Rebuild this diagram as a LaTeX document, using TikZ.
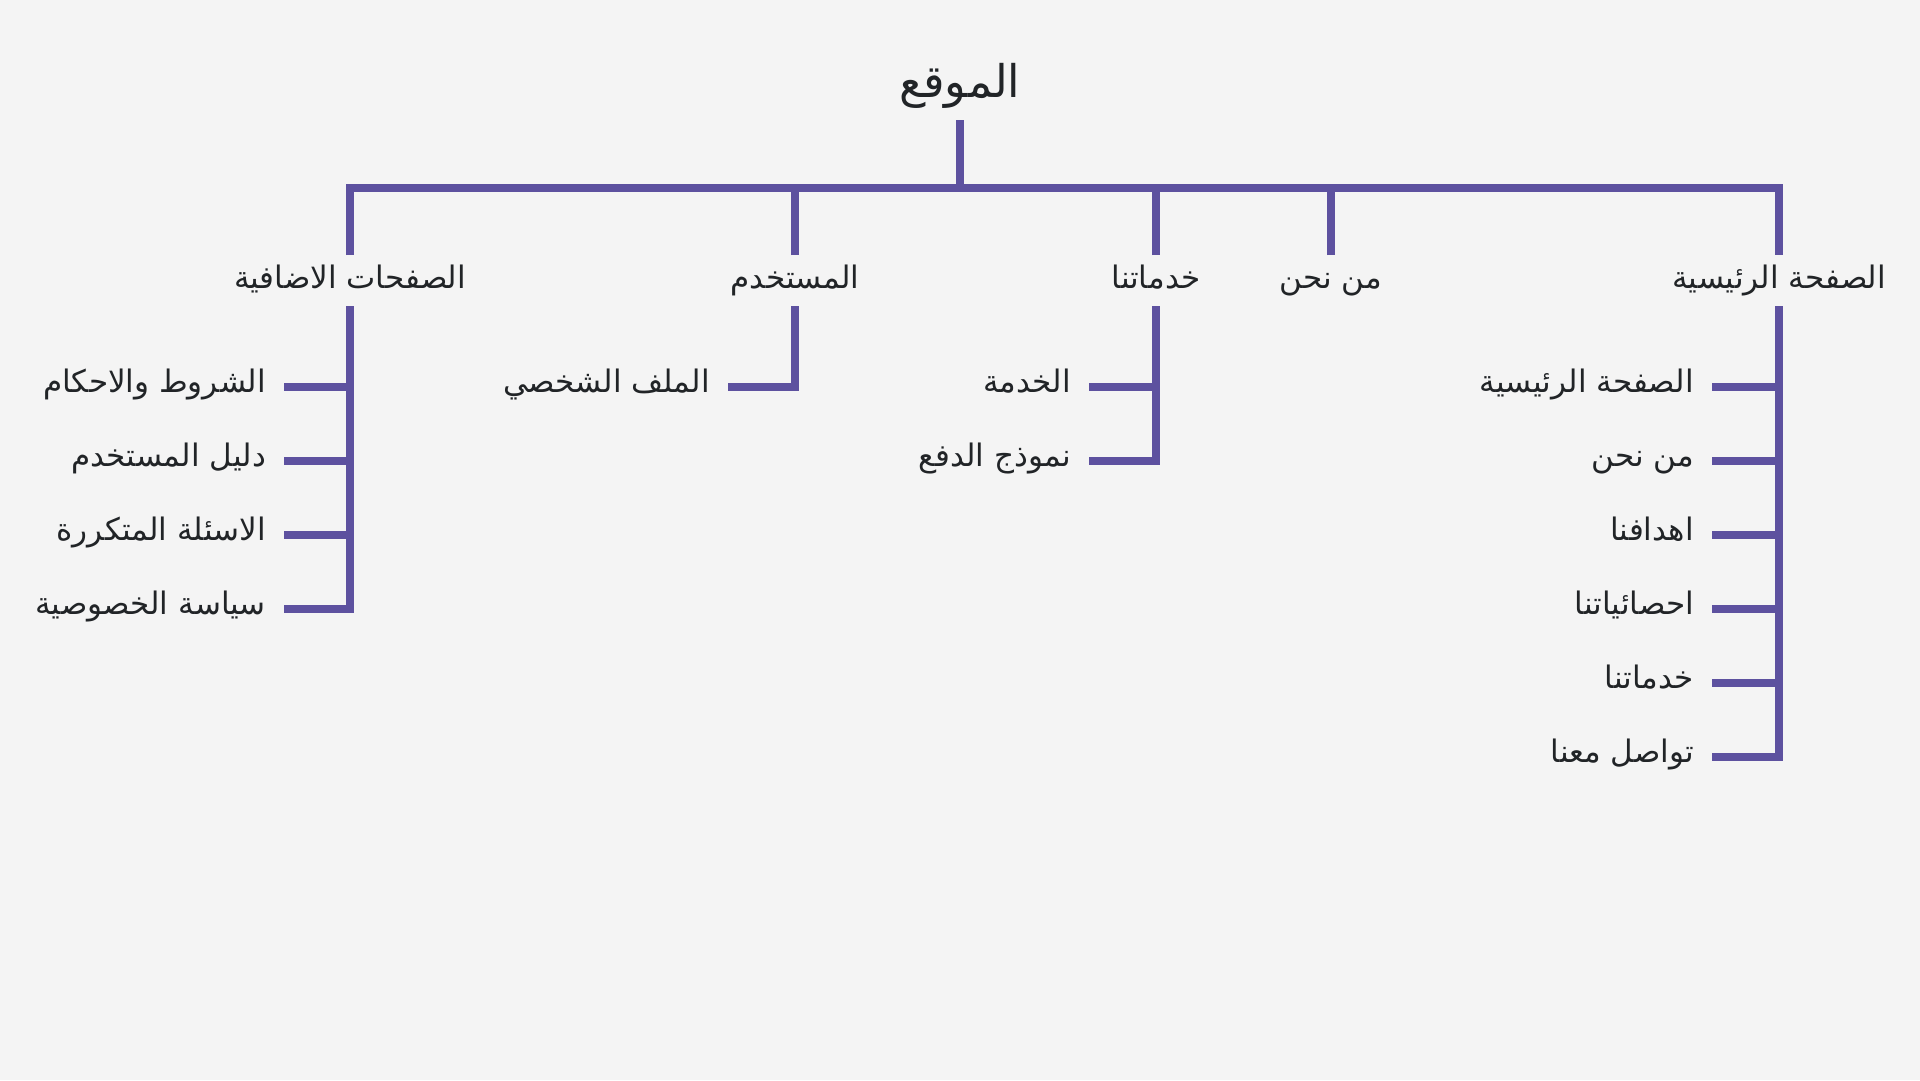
\documentclass[tikz,border=0pt]{standalone}
\usepackage{fontspec}
\newfontfamily\arabicfont[Script=Arabic]{DejaVu Sans}
\TeXXeTstate=1
\usetikzlibrary{calc}
\definecolor{bgc}{HTML}{F4F4F4}
\definecolor{linec}{HTML}{5D519F}
\definecolor{txtc}{HTML}{212427}
\newcommand\artxt[1]{\arabicfont\beginR #1\endR}
\begin{document}
\begin{tikzpicture}[x=1pt,y=-1pt,
  conn/.style={draw=linec, line width=7.5pt, line join=miter},
  lbl/.style={text=txtc, font=\fontsize{31}{36}\selectfont, inner sep=0pt,
    text height=20pt, text depth=10pt},
  rootlbl/.style={text=txtc, font=\fontsize{45}{52}\selectfont, inner sep=0pt,
    text height=30pt, text depth=20pt},
  item/.style={lbl, anchor=east}]
\fill[bgc] (0,0) rectangle (1920,1080);
\useasboundingbox (0,0) rectangle (1920,1080);

\node[rootlbl] (root) at (960,92) {\artxt{الموقع}};
\coordinate (bar) at (960,188);

\node[lbl] (n1) at (1779,283) {\artxt{الصفحة الرئيسية}};
\node[lbl] (n2) at (1331,283) {\artxt{من نحن}};
\node[lbl] (n3) at (1156,283) {\artxt{خدماتنا}};
\node[lbl] (n4) at (795,283) {\artxt{المستخدم}};
\node[lbl] (n5) at (350,283) {\artxt{الصفحات الاضافية}};

% children of n1
\node[item] (h1) at (1694,387) {\artxt{الصفحة الرئيسية}};
\node[item] (h2) at (1694,461) {\artxt{من نحن}};
\node[item] (h3) at (1694,535) {\artxt{اهدافنا}};
\node[item] (h4) at (1694,609) {\artxt{احصائياتنا}};
\node[item] (h5) at (1694,683) {\artxt{خدماتنا}};
\node[item] (h6) at (1694,757) {\artxt{تواصل معنا}};
% children of n3
\node[item] (s1) at (1071,387) {\artxt{الخدمة}};
\node[item] (s2) at (1071,461) {\artxt{نموذج الدفع}};
% children of n4
\node[item] (u1) at (710,387) {\artxt{الملف الشخصي}};
% children of n5
\node[item] (e1) at (266,387) {\artxt{الشروط والاحكام}};
\node[item] (e2) at (266,461) {\artxt{دليل المستخدم}};
\node[item] (e3) at (266,535) {\artxt{الاسئلة المتكررة}};
\node[item] (e4) at (266,609) {\artxt{سياسة الخصوصية}};

% top tree
\draw[conn] ($(root)+(0,28)$) -- (bar);
\draw[conn] ($(n5)+(0,-28)$) -- (n5 |- bar) -- (n1 |- bar) -- ($(n1)+(0,-28)$);
\foreach \n in {n2,n3,n4}
  \draw[conn] ($(\n)+(0,-28)$) -- (\n |- bar);

% n1 branch
\draw[conn] ($(n1)+(0,23)$) |- ($(h6.east)+(18,0)$);
\foreach \c in {h1,h2,h3,h4,h5}
  \draw[conn] ($(\c.east)+(18,0)$) -- (\c.east -| n1);
% n3 branch
\draw[conn] ($(n3)+(0,23)$) |- ($(s2.east)+(18,0)$);
\draw[conn] ($(s1.east)+(18,0)$) -- (s1.east -| n3);
% n4 branch
\draw[conn] ($(n4)+(0,23)$) |- ($(u1.east)+(18,0)$);
% n5 branch
\draw[conn] ($(n5)+(0,23)$) |- ($(e4.east)+(18,0)$);
\foreach \c in {e1,e2,e3}
  \draw[conn] ($(\c.east)+(18,0)$) -- (\c.east -| n5);
\end{tikzpicture}
\end{document}
